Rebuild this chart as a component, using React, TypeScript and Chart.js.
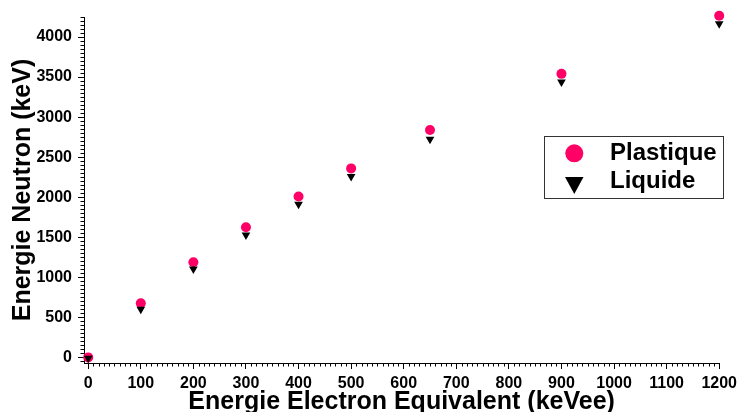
import React, { useEffect, useRef } from "react";
import { Chart, registerables } from "chart.js";

Chart.register(...registerables);

const xEnergies = [0, 100, 200, 300, 400, 500, 650, 900, 1200];
const plastiqueValues = [0, 675, 1188, 1625, 2008, 2360, 2840, 3540, 4265];
const liquideValues = [-10, 600, 1104, 1529, 1913, 2258, 2725, 3437, 4166];
const xTickValues = [0, 100, 200, 300, 400, 500, 600, 700, 800, 900, 1000, 1100, 1200];
const yTickValues = [0, 500, 1000, 1500, 2000, 2500, 3000, 3500, 4000];
const seriesLabels = ["Plastique", "Liquide"];
const xTitle = "Energie Electron Equivalent (keVee)";
const yTitle = "Energie Neutron (keV)";

const FONT = "'Liberation Sans', Arial, Helvetica, sans-serif";
const PINK = "#ff0066";

const minorTicksPlugin = {
  id: "minorTicks",
  afterDraw(chart: any) {
    const ctx = chart.ctx;
    const area = chart.chartArea;
    const x = chart.scales.x;
    const y = chart.scales.y;
    ctx.save();
    ctx.strokeStyle = "#000";
    ctx.lineWidth = 1;
    ctx.beginPath();
    for (let v = 10; v < 1200; v += 10) {
      if (v % 100 === 0) continue;
      const px = Math.round(x.getPixelForValue(v)) + 0.5;
      ctx.moveTo(px, area.bottom);
      ctx.lineTo(px, area.bottom + 3.5);
    }
    for (let v = -50; v <= 4250; v += 50) {
      if (v % 500 === 0) continue;
      const py = Math.round(y.getPixelForValue(v)) + 0.5;
      ctx.moveTo(area.left - 3.5, py);
      ctx.lineTo(area.left, py);
    }
    ctx.stroke();
    ctx.restore();
  },
};

const legendPlugin = {
  id: "boxLegend",
  afterDraw(chart: any) {
    const ctx = chart.ctx;
    const bx = 544.5;
    const by = 136.5;
    const bw = 179;
    const bh = 62;
    ctx.save();
    ctx.fillStyle = "#fff";
    ctx.fillRect(bx, by, bw, bh);
    ctx.strokeStyle = "#333";
    ctx.lineWidth = 1;
    ctx.strokeRect(bx, by, bw, bh);
    ctx.fillStyle = PINK;
    ctx.beginPath();
    ctx.arc(574.3, 153.3, 9, 0, Math.PI * 2);
    ctx.fill();
    ctx.fillStyle = "#000";
    ctx.beginPath();
    ctx.moveTo(565, 177);
    ctx.lineTo(583.5, 177);
    ctx.lineTo(574.3, 194);
    ctx.closePath();
    ctx.fill();
    ctx.font = `bold 24px ${FONT}`;
    ctx.textBaseline = "alphabetic";
    ctx.textAlign = "left";
    ctx.fillStyle = "#000";
    ctx.fillText(seriesLabels[0], 610, 160);
    ctx.fillText(seriesLabels[1], 610, 188);
    ctx.restore();
  },
};

export default function App() {
  const canvasRef = useRef<HTMLCanvasElement | null>(null);

  useEffect(() => {
    if (!canvasRef.current) return;
    const chart = new Chart(canvasRef.current, {
      type: "scatter",
      data: {
        datasets: [
          {
            label: seriesLabels[0],
            data: xEnergies.map((x, i) => ({ x, y: plastiqueValues[i] })),
            pointStyle: "circle",
            pointRadius: 5,
            pointHoverRadius: 5,
            backgroundColor: PINK,
            borderColor: PINK,
            pointBorderWidth: 0,
            order: 1,
            clip: false,
          } as any,
          {
            label: seriesLabels[1],
            data: xEnergies.map((x, i) => ({ x, y: liquideValues[i] })),
            pointStyle: "triangle",
            pointRotation: 180,
            pointRadius: 5,
            pointHoverRadius: 5,
            backgroundColor: "#000",
            borderColor: "#000",
            pointBorderWidth: 0,
            order: 0,
            clip: false,
          } as any,
        ],
      },
      options: {
        responsive: false,
        animation: false,
        events: [],
        layout: { padding: { left: 0, right: 20, top: 17, bottom: 0 } },
        plugins: {
          legend: { display: false },
          tooltip: { enabled: false },
        },
        scales: {
          x: {
            type: "linear",
            min: -8,
            max: 1200,
            afterFit: (s: any) => {
              s.height = 49;
            },
            afterBuildTicks: (s: any) => {
              s.ticks = xTickValues.map((v) => ({ value: v }));
            },
            ticks: {
              padding: 5,
              maxRotation: 0,
              autoSkip: false,
              color: "#000",
              callback: (v: any) => String(v),
              font: { family: FONT, size: 16, weight: "bold" },
            },
            grid: {
              drawOnChartArea: false,
              drawTicks: true,
              tickLength: 6,
              tickColor: "#000",
              tickWidth: 1,
            },
            border: { display: true, color: "#000", width: 1 },
            title: {
              display: true,
              text: xTitle,
              color: "#000",
              padding: { top: 0, bottom: -5 },
              font: { family: FONT, size: 25, weight: "bold" },
            },
          },
          y: {
            type: "linear",
            min: -70,
            max: 4250,
            afterFit: (s: any) => {
              s.width = 84;
            },
            afterBuildTicks: (s: any) => {
              s.ticks = yTickValues.map((v) => ({ value: v }));
            },
            ticks: {
              padding: 6,
              autoSkip: false,
              color: "#000",
              callback: (v: any) => String(v),
              font: { family: FONT, size: 16, weight: "bold" },
            },
            grid: {
              drawOnChartArea: false,
              drawTicks: true,
              tickLength: 6,
              tickColor: "#000",
              tickWidth: 1,
            },
            border: { display: true, color: "#000", width: 1 },
            title: {
              display: true,
              text: yTitle,
              color: "#000",
              padding: { top: 8, bottom: 0 },
              font: { family: FONT, size: 25, weight: "bold" },
            },
          },
        },
      } as any,
      plugins: [minorTicksPlugin, legendPlugin],
    });
    return () => chart.destroy();
  }, []);

  return (
    <div style={{ position: "fixed", left: 0, top: 0, width: 742, height: 412, background: "#fff" }}>
      <canvas ref={canvasRef} width={742} height={412} style={{ display: "block" }} />
    </div>
  );
}
